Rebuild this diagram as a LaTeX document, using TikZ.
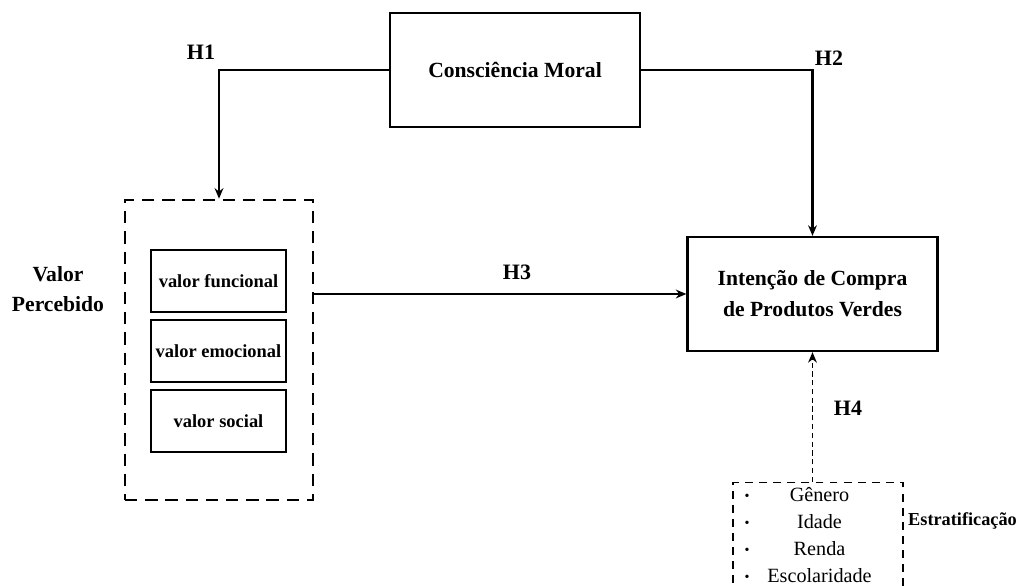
\documentclass[tikz,border=0pt]{standalone}
\usepackage{fontspec}
\setmainfont{Liberation Serif}
\usetikzlibrary{arrows.meta}

\tikzset{
  block/.style={draw, line width=1.3pt, minimum width=5cm, minimum height=2.28cm,
    align=center, font=\fontsize{12.3}{17.5}\selectfont\bfseries},
  valbox/.style={draw, line width=0.6pt, minimum width=2.7cm, minimum height=1.24cm,
    inner xsep=1pt, font=\fontsize{10.5}{12}\selectfont\bfseries},
  hlabel/.style={font=\fontsize{12.5}{15}\selectfont\bfseries},
  link/.style={line width=1.3pt, -{Stealth[length=6pt,width=5pt]}},
}

\begin{document}
\begin{tikzpicture}

\useasboundingbox (0,0) rectangle (20.38,11.72);
\clip (0,0) rectangle (20.38,11.72);

% moral consciousness
\node[block] (moral) at (10.3,10.32) {Consciência Moral};

% perceived value
\node[draw, line width=1.5pt, dash pattern=on 7pt off 4.5pt,
  minimum width=3.76cm, minimum height=6cm] (valor) at (4.38,4.72) {};
\node[valbox] (funcional) at (4.37,6.1) {valor funcional};
\node[valbox] (emocional) at (4.37,4.7) {valor emocional};
\node[valbox] (social) at (4.37,3.3) {valor social};
\node[align=center, font=\fontsize{12.3}{17.5}\selectfont\bfseries] (percebido) at (1.16,5.94) {Valor\\Percebido};

% purchase intention
\node[block] (intencao) at (16.25,5.84) {Intenção de Compra\\de Produtos Verdes};

% stratification
\node[draw, line width=0.8pt, dash pattern=on 4.5pt off 3.5pt,
  minimum width=3.4cm, minimum height=2.6cm, anchor=north] (strata) at (16.36,2.08) {};
\foreach \txt [count=\i] in {Gênero, Idade, Renda, Escolaridade} {
  \node[font=\fontsize{8}{10}\selectfont] (bul\i) at (14.94,{1.78-0.54*(\i-1)}) {\textbullet};
  \node[font=\fontsize{11.5}{13}\selectfont] (item\i) at (16.39,{1.82-0.54*(\i-1)}) {\txt};
}
\node[font=\fontsize{10.4}{12}\selectfont\bfseries] (estrat) at (19.25,1.3) {Estratificação};

% hypotheses
\draw[link] (moral.west) -| (valor.north);
\node[hlabel] (h1) at (4.02,10.68) {H1};

\draw[link] (moral.east) -| (intencao.north);
\node[hlabel] (h2) at (16.58,10.56) {H2};

\draw[link] (valor.east |- intencao.west) -- (intencao.west);
\node[hlabel] (h3) at (10.34,6.28) {H3};

\draw[link, line width=0.9pt, dash pattern=on 3pt off 2pt] (strata.north -| intencao.south) -- (intencao.south);
\node[hlabel] (h4) at (16.96,3.56) {H4};

\end{tikzpicture}
\end{document}
